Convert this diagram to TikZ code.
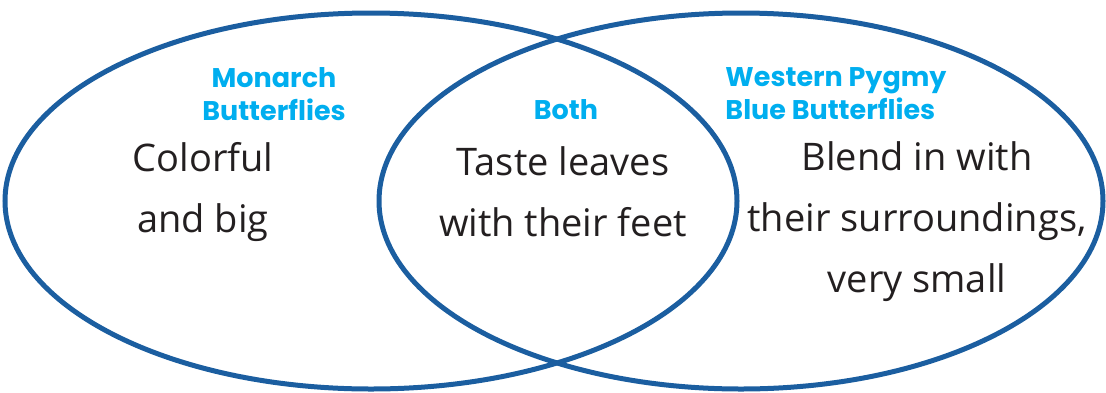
\documentclass[tikz,border=0pt]{standalone}
\usepackage{fontspec}
\setmainfont{Open Sans}
\newfontfamily\headfont{Poppins}
\definecolor{ringblue}{RGB}{27,94,160}
\definecolor{headcyan}{RGB}{0,174,239}
\definecolor{inkblack}{RGB}{35,31,32}
\tikzset{
  ring/.style={draw=ringblue, line width=5pt},
  head/.style={text=headcyan, font=\headfont\fontsize{27}{33}\selectfont\bfseries, align=left, inner sep=0pt},
  fact/.style={text=inkblack, font=\fontsize{38}{61}\selectfont, align=center, inner sep=0pt}
}
\begin{document}
\begin{tikzpicture}[x=1pt,y=-1pt]
    \useasboundingbox (0,0) rectangle (1106,392);
    % Sets
        \draw[ring] (371,201) ellipse [x radius=366, y radius=188];
        \draw[ring] (741,201) ellipse [x radius=362, y radius=188];
    % Headings
        \node[head, align=center] (monarch) at (274,94) {Monarch\\Butterflies};
        \node[head, align=center] (both) at (566,110) {Both};
        \node[head] (pygmy) at (836,94) {Western Pygmy\\Blue Butterflies};
    % Facts
        \node[fact] (big) at (203,192) {Colorful\\and big};
        \node[fact] (feet) at (563,192) {Taste leaves\\with their feet};
        \node[fact] (small) at (917,222) {Blend in with\\their surroundings,\\very small};
\end{tikzpicture}
\end{document}
